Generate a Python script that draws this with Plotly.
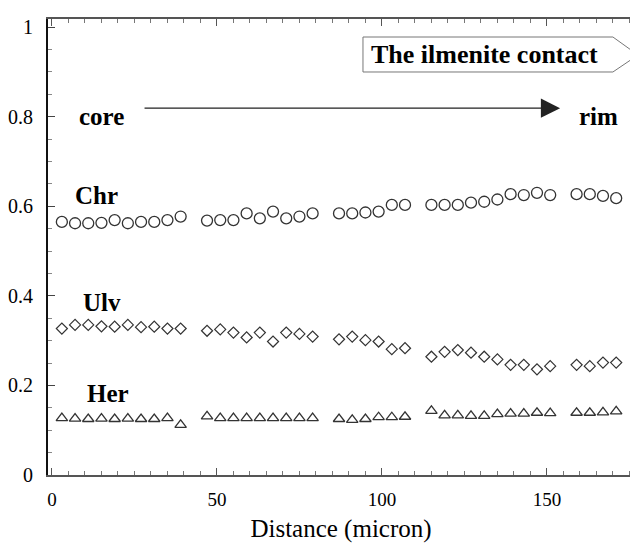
import plotly.graph_objects as go

# ---- data ----
distance = [3, 7, 11, 15, 19, 23, 27, 31, 35, 39,
            47, 51, 55, 59, 63, 67, 71, 75, 79,
            87, 91, 95, 99, 103, 107,
            115, 119, 123, 127, 131, 135, 139, 143, 147, 151,
            159, 163, 167, 171]

chr_vals = [0.565, 0.562, 0.562, 0.563, 0.569, 0.562, 0.565, 0.565, 0.569, 0.577,
            0.568, 0.569, 0.569, 0.584, 0.573, 0.588, 0.573, 0.577, 0.584,
            0.584, 0.584, 0.586, 0.588, 0.603, 0.603,
            0.603, 0.603, 0.603, 0.608, 0.610, 0.615, 0.627, 0.625, 0.630, 0.625,
            0.627, 0.627, 0.623, 0.618]

ulv_vals = [0.327, 0.335, 0.335, 0.332, 0.331, 0.335, 0.330, 0.331, 0.327, 0.327,
            0.322, 0.325, 0.318, 0.307, 0.318, 0.298, 0.318, 0.315, 0.309,
            0.303, 0.309, 0.301, 0.298, 0.281, 0.283,
            0.264, 0.275, 0.279, 0.273, 0.264, 0.258, 0.246, 0.246, 0.236, 0.243,
            0.246, 0.243, 0.251, 0.251]

her_vals = [0.127, 0.126, 0.125, 0.126, 0.125, 0.126, 0.125, 0.125, 0.127, 0.112,
            0.131, 0.127, 0.127, 0.127, 0.127, 0.127, 0.127, 0.127, 0.127,
            0.125, 0.123, 0.125, 0.129, 0.129, 0.130,
            0.143, 0.133, 0.133, 0.132, 0.132, 0.136, 0.137, 0.137, 0.139, 0.138,
            0.139, 0.139, 0.140, 0.142]

series_names = ["Chr", "Ulv", "Her"]
x_ticks = [0, 50, 100, 150]
y_ticks = [0, 0.2, 0.4, 0.6, 0.8, 1]

FONT = "Liberation Serif"
INK = "#333333"

fig = go.Figure()
fig.add_trace(go.Scatter(x=distance, y=chr_vals, mode="markers", name="Chr",
                         marker=dict(symbol="circle-open", size=11, color=INK,
                                     line=dict(width=1.3))))
fig.add_trace(go.Scatter(x=distance, y=ulv_vals, mode="markers", name="Ulv",
                         marker=dict(symbol="diamond-open", size=8.5, color=INK,
                                     line=dict(width=1.2))))
fig.add_trace(go.Scatter(x=distance, y=her_vals, mode="markers", name="Her",
                         marker=dict(symbol="triangle-up-open", size=10, color=INK,
                                     line=dict(width=1.3))))

# series labels
label_pos = {"Chr": (13.6, 0.623), "Ulv": (15.2, 0.384), "Her": (17.0, 0.183)}
for name in series_names:
    lx, ly = label_pos[name]
    fig.add_annotation(x=lx, y=ly, text="<b>%s</b>" % name, showarrow=False,
                       xanchor="center", yanchor="middle",
                       font=dict(family=FONT, size=25, color="black"))

fig.add_annotation(x=15.1, y=0.80, text="<b>core</b>", showarrow=False,
                   xanchor="center", yanchor="middle",
                   font=dict(family=FONT, size=25, color="black"))
fig.add_annotation(x=165.5, y=0.80, text="<b>rim</b>", showarrow=False,
                   xanchor="center", yanchor="middle",
                   font=dict(family=FONT, size=25, color="black"))
# core -> rim arrow
fig.add_annotation(x=154, y=0.819, ax=27.6, ay=0.819, xref="x", yref="y",
                   axref="x", ayref="y", text="", showarrow=True,
                   arrowhead=2, arrowsize=3.2, arrowwidth=1.2, arrowcolor="#222222")

# ilmenite contact box (pointed on the right)
fig.add_shape(type="path", xref="paper", yref="paper",
              path="M 0.5375 0.9605 L 0.964 0.9605 L 1.0068 0.921 L 0.964 0.8838 L 0.5375 0.8838 Z",
              line=dict(color="#777777", width=1), fillcolor="rgba(0,0,0,0)")
fig.add_annotation(xref="paper", yref="paper", x=0.7455, y=0.922,
                   xanchor="center", yanchor="middle",
                   text="<b>The ilmenite contact</b>", showarrow=False,
                   font=dict(family=FONT, size=26, color="black"))

# page body has an 8px default margin, so the figure is 8px smaller
fig.update_layout(
    width=630, height=536,
    margin=dict(l=40, r=4, t=11, b=69, autoexpand=False),
    paper_bgcolor="white", plot_bgcolor="white",
    showlegend=False,
    font=dict(family=FONT, size=19, color="black"),
)
fig.update_xaxes(
    range=[-1.2, 176.4], tickvals=x_ticks, ticktext=[str(v) for v in x_ticks],
    showgrid=False, zeroline=False,
    showline=True, linecolor="#555555", linewidth=1.5, mirror="ticks",
    ticks="inside", ticklen=7, tickcolor="#555555", tickwidth=1,
    minor=dict(dtick=5, tick0=0, ticks="inside", ticklen=4, tickcolor="#777777", showgrid=False),
    tickfont=dict(family=FONT, size=19, color="black"),
    ticklabelstandoff=6,
    title=dict(text="Distance (micron)", font=dict(family=FONT, size=25, color="black"), standoff=11),
    automargin=False,
)
fig.update_yaxes(
    range=[0, 1.018], tickvals=y_ticks, ticktext=["0", "0.2", "0.4", "0.6", "0.8", "1"],
    showgrid=False, zeroline=False,
    showline=True, linecolor="#111111", linewidth=2,
    ticks="inside", ticklen=7, tickcolor="#444444", tickwidth=1,
    minor=dict(dtick=0.05, tick0=0, ticks="inside", ticklen=4, tickcolor="#888888", showgrid=False),
    tickfont=dict(family=FONT, size=20, color="black"),
    ticklabelstandoff=9,
    automargin=False,
)

fig.write_html("out.html")
